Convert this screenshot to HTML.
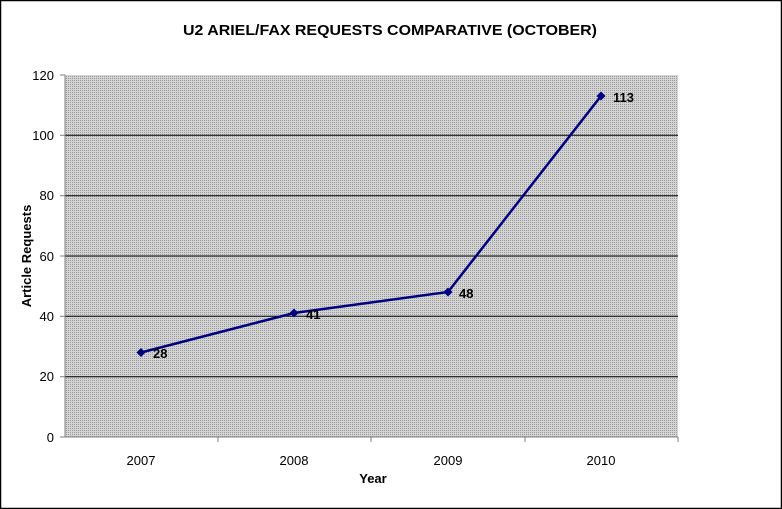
<!DOCTYPE html>
<html><head><style>body{margin:0;background:#fff}svg{display:block}</style></head><body>
<svg width="782" height="509" xmlns="http://www.w3.org/2000/svg" font-family="Liberation Sans, Arial, sans-serif">
<defs><pattern id="p" width="2" height="2" patternUnits="userSpaceOnUse"><rect width="2" height="2" fill="#d4d4d4"/><rect width="1" height="1" fill="#9a9a9a"/></pattern></defs>
<rect x="0.5" y="0.5" width="781" height="508" fill="#fff" stroke="#000" stroke-width="1.5"/>
<text x="390" y="35" font-size="14.5" font-weight="bold" text-anchor="middle" textLength="414" lengthAdjust="spacingAndGlyphs">U2 ARIEL/FAX REQUESTS COMPARATIVE (OCTOBER)</text>
<rect x="65" y="75" width="613" height="362" fill="url(#p)"/>
<g stroke="#000" stroke-width="1">
<line x1="65" x2="678" y1="135.3" y2="135.3"/><line x1="65" x2="678" y1="195.7" y2="195.7"/><line x1="65" x2="678" y1="256" y2="256"/><line x1="65" x2="678" y1="316.3" y2="316.3"/><line x1="65" x2="678" y1="376.7" y2="376.7"/>
</g>
<g stroke="#808080" stroke-width="1">
<line x1="65" x2="65" y1="75" y2="437"/><line x1="65" x2="678" y1="437" y2="437"/>
<line x1="60" x2="65" y1="75" y2="75"/><line x1="60" x2="65" y1="135.3" y2="135.3"/><line x1="60" x2="65" y1="195.7" y2="195.7"/><line x1="60" x2="65" y1="256" y2="256"/><line x1="60" x2="65" y1="316.3" y2="316.3"/><line x1="60" x2="65" y1="376.7" y2="376.7"/><line x1="60" x2="65" y1="437" y2="437"/>
<line x1="218" x2="218" y1="437" y2="442"/><line x1="371" x2="371" y1="437" y2="442"/><line x1="525" x2="525" y1="437" y2="442"/><line x1="678" x2="678" y1="437" y2="442"/>
</g>
<g font-size="13" text-anchor="end">
<text x="54" y="80">120</text><text x="54" y="140">100</text><text x="54" y="200">80</text><text x="54" y="261">60</text><text x="54" y="321">40</text><text x="54" y="381">20</text><text x="54" y="442">0</text>
</g>
<g font-size="13" text-anchor="middle">
<text x="141" y="465">2007</text><text x="294" y="465">2008</text><text x="448" y="465">2009</text><text x="601" y="465">2010</text>
</g>
<text x="373" y="483" font-size="13" font-weight="bold" text-anchor="middle">Year</text>
<text transform="translate(31,256) rotate(-90)" font-size="13" font-weight="bold" text-anchor="middle">Article Requests</text>
<polyline points="141,352.5 294,313 448,292 601,96" fill="none" stroke="#000080" stroke-width="2.5"/>
<g fill="#000080">
<path d="M141,348 l4.5,4.5 -4.5,4.5 -4.5,-4.5z"/><path d="M294,308.5 l4.5,4.5 -4.5,4.5 -4.5,-4.5z"/><path d="M448,287.5 l4.5,4.5 -4.5,4.5 -4.5,-4.5z"/><path d="M601,91.5 l4.5,4.5 -4.5,4.5 -4.5,-4.5z"/>
</g>
<g font-size="13" font-weight="bold">
<text x="153" y="358">28</text><text x="306" y="319">41</text><text x="459" y="298">48</text><text x="613" y="102">113</text>
</g>
</svg>
</body></html>
